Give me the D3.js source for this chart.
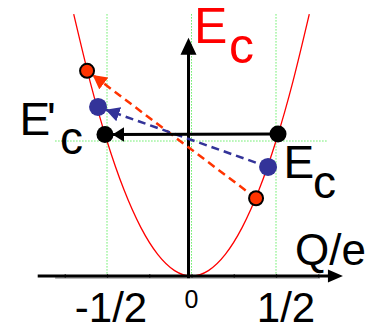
<!DOCTYPE html>
<html>
<head>
<meta charset="utf-8">
<script src="https://cdn.jsdelivr.net/npm/d3@7"></script>
<style>
  body { margin: 0; background: #fff; }
  text { font-family: "Liberation Sans", Arial, sans-serif; }
</style>
</head>
<body>
<div id="chart"></div>
<script>
// parabola (charge Q/e, energy)
const curveQ = [-0.697, -0.6, -0.5, -0.4, -0.3, -0.2, -0.1, 0, 0.1, 0.2, 0.3, 0.4, 0.5, 0.6, 0.697];
const curveE = [0.485, 0.36, 0.25, 0.16, 0.09, 0.04, 0.01, 0, 0.01, 0.04, 0.09, 0.16, 0.25, 0.36, 0.485];

// state pairs: [right point, left point] as (Q, E)
const pairNames = ["red", "blue", "black"];
const pairFrom = [[0.382, 0.144], [0.453, 0.202], [0.512, 0.263]];
const pairTo = [[-0.618, 0.380], [-0.553, 0.313], [-0.512, 0.262]];

const gridQ = [-0.5, 0, 0.5];
const gridE = [0.25];
const minorTicks = [-0.75, -0.5, -0.25, 0, 0.25, 0.5, 0.75];
const tickPos = [-0.5, 0, 0.5];
const tickLabels = ["-1/2", "0", "1/2"];

const width = 385, height = 327;

const x = d3.scaleLinear().domain([-0.5, 0.5]).range([107, 276]);
const y = d3.scaleLinear().domain([0, 0.25]).range([276, 141]);

const svg = d3.select("#chart").append("svg")
    .attr("width", width)
    .attr("height", height);

const colors = { red: "#ff3300", blue: "#333399", black: "#000" };

// arrowhead markers
const defs = svg.append("defs");
pairNames.forEach(name => {
    const len = name === "black" ? 12 : 14;
    defs.append("marker")
        .attr("id", "head-" + name)
        .attr("markerUnits", "userSpaceOnUse")
        .attr("viewBox", `${-len} -8 ${len} 16`)
        .attr("refX", 0).attr("refY", 0)
        .attr("markerWidth", len).attr("markerHeight", 16)
        .attr("orient", "auto")
        .append("path")
        .attr("d", `M0,0L${-len},-7.5L${-len},7.5Z`)
        .attr("fill", colors[name]);
});

// green dotted guide lines
svg.append("g").selectAll("line.v")
    .data(gridQ)
    .enter().append("line")
    .attr("x1", d => x(d)).attr("x2", d => x(d))
    .attr("y1", y(0.485)).attr("y2", y(0))
    .attr("stroke", "#66ee66")
    .attr("stroke-width", 1)
    .attr("stroke-dasharray", "1.5,1.5");

svg.append("g").selectAll("line.h")
    .data(gridE)
    .enter().append("line")
    .attr("x1", x(-0.807)).attr("x2", x(0.802))
    .attr("y1", d => y(d)).attr("y2", d => y(d))
    .attr("stroke", "#66ee66")
    .attr("stroke-width", 1)
    .attr("stroke-dasharray", "1.5,1.5");

// parabola
const line = d3.line()
    .x(d => x(d[0]))
    .y(d => y(d[1]))
    .curve(d3.curveNatural);

svg.append("path")
    .datum(curveQ.map((q, i) => [q, curveE[i]]))
    .attr("d", line)
    .attr("fill", "none")
    .attr("stroke", "#ff0000")
    .attr("stroke-width", 1.3);

// thin tick axis under the main axis
const tickAxis = svg.append("g")
    .attr("transform", `translate(0,${y(0) + 2})`)
    .call(d3.axisBottom(x).tickValues(minorTicks).tickSizeInner(-4).tickSizeOuter(0).tickFormat(""));
tickAxis.select(".domain")
    .attr("d", `M${x(-0.807)},0H${x(0.76)}`)
    .attr("stroke", "#777")
    .attr("stroke-width", 1.2);
tickAxis.selectAll(".tick line").attr("stroke", "#555").attr("stroke-width", 1.2);

// main x axis with arrow
const xa0 = x(-0.91), xa1 = x(0.896), ya = y(0);
svg.append("line")
    .attr("x1", xa0).attr("x2", xa1 - 14)
    .attr("y1", ya).attr("y2", ya)
    .attr("stroke", "#000").attr("stroke-width", 3);
svg.append("path")
    .attr("d", `M${xa1},${ya}L${xa1 - 15},${ya - 6.5}L${xa1 - 15},${ya + 6.5}Z`)
    .attr("fill", "#000");

// main y axis with arrow
const yx = x(0) - 3, ytop = y(0.441);
svg.append("line")
    .attr("x1", yx).attr("x2", yx)
    .attr("y1", y(-0.004)).attr("y2", ytop + 15)
    .attr("stroke", "#000").attr("stroke-width", 3);
svg.append("path")
    .attr("d", `M${yx},${ytop}L${yx - 8},${ytop + 17}L${yx + 8},${ytop + 17}Z`)
    .attr("fill", "#000");

// transition arrows (dashed for red / blue)
const radius = { red: 8, blue: 9, black: 8.5 };
pairNames.forEach((name, i) => {
    const [x1, y1] = [x(pairFrom[i][0]), y(pairFrom[i][1])];
    const [x2, y2] = [x(pairTo[i][0]), y(pairTo[i][1])];
    const dx = x2 - x1, dy = y2 - y1, len = Math.hypot(dx, dy);
    const gap = radius[name] - 1;
    svg.append("line")
        .attr("x1", x1).attr("y1", y1)
        .attr("x2", x2 - dx / len * gap).attr("y2", y2 - dy / len * gap)
        .attr("stroke", colors[name])
        .attr("stroke-width", name === "black" ? 3 : 2.5)
        .attr("stroke-dasharray", name === "black" ? null : "8,5")
        .attr("marker-end", `url(#head-${name})`);
});

// state dots
pairNames.forEach((name, i) => {
    svg.selectAll(null)
        .data([pairFrom[i], pairTo[i]])
        .enter().append("circle")
        .attr("cx", d => x(d[0]))
        .attr("cy", d => y(d[1]))
        .attr("r", name === "red" ? radius[name] - 1 : radius[name])
        .attr("fill", colors[name])
        .attr("stroke", name === "red" ? "#000" : "none")
        .attr("stroke-width", 2);
});

// tick labels
const labelDx = [4, 0, 10];
svg.selectAll("text.tick")
    .data(tickLabels)
    .enter().append("text")
    .attr("x", (d, i) => x(tickPos[i]) + labelDx[i])
    .attr("y", (d, i) => i === 1 ? 308 : 322)
    .attr("text-anchor", "middle")
    .attr("font-size", (d, i) => i === 1 ? 25 : 42)
    .text(d => d);

// axis title
svg.append("text")
    .attr("x", 295).attr("y", 265)
    .attr("font-size", 44)
    .text("Q/e");

// energy labels
const ecTop = svg.append("text").attr("fill", "#ff0000").attr("font-size", 50);
ecTop.append("tspan").attr("x", 194).attr("y", 43).text("E");
ecTop.append("tspan").attr("x", 229).attr("y", 63).text("c");

const ecLeft = svg.append("text").attr("font-size", 46);
ecLeft.append("tspan").attr("x", 19.5).attr("y", 135).text("E");
ecLeft.append("tspan").attr("x", 47).attr("y", 135).text("'");
ecLeft.append("tspan").attr("x", 60).attr("y", 154).text("c");

const ecRight = svg.append("text").attr("font-size", 46);
ecRight.append("tspan").attr("x", 283.5).attr("y", 178).text("E");
ecRight.append("tspan").attr("x", 313).attr("y", 198).text("c");
</script>
</body>
</html>
